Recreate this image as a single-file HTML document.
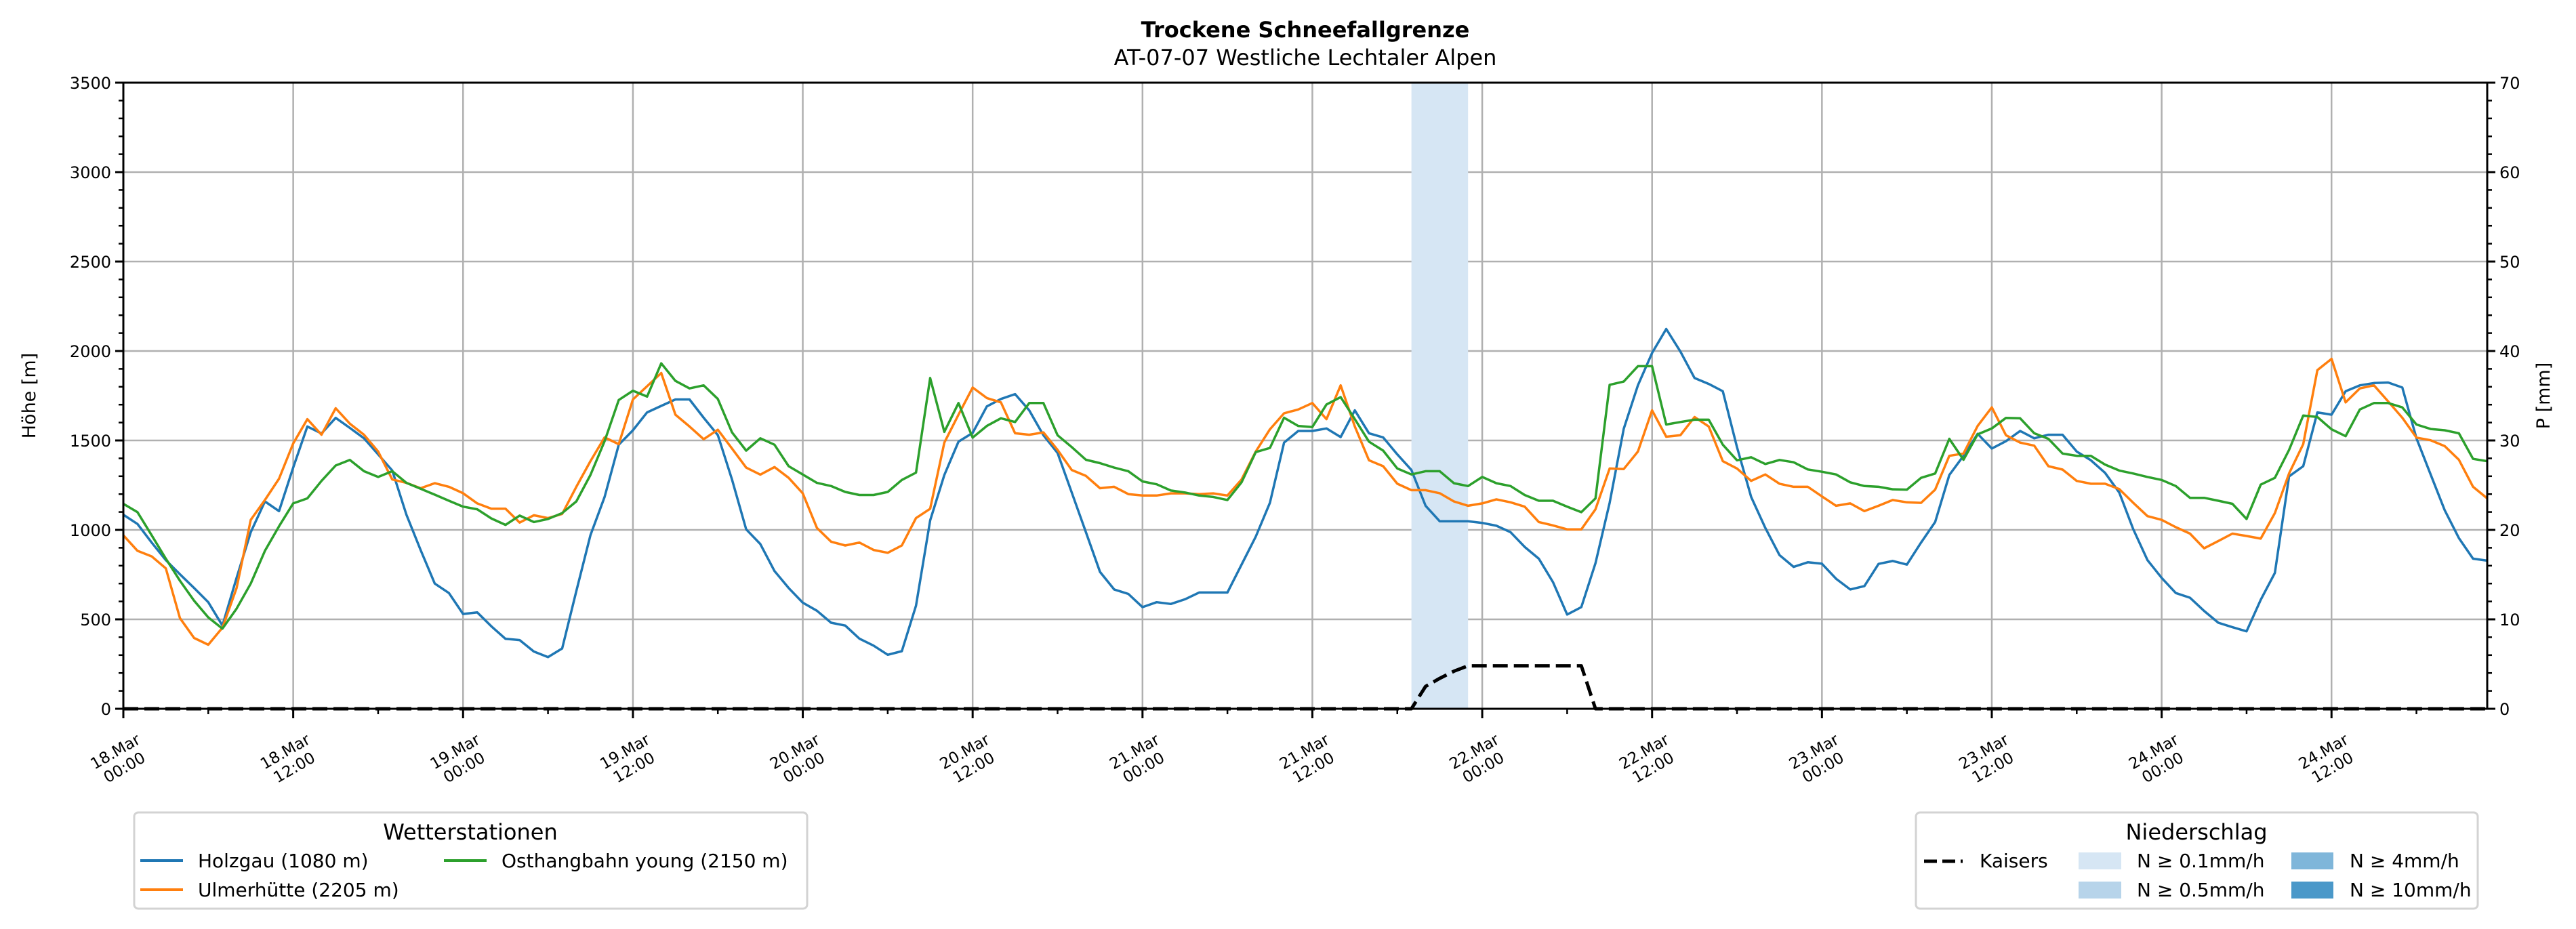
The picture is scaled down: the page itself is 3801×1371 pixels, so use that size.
<!DOCTYPE html>
<html><head><meta charset="utf-8"><style>
html,body{margin:0;padding:0;background:#fff;}
svg{display:block;font-family:"DejaVu Sans","Liberation Sans",sans-serif;}
</style></head><body>
<svg id="chart" width="3801" height="1371" viewBox="0 0 3801 1371" xmlns="http://www.w3.org/2000/svg">
<rect width="3801" height="1371" fill="#fff"/>
<text x="1926" y="55" text-anchor="middle" font-size="32" font-weight="bold">Trockene Schneefallgrenze</text>
<text x="1926" y="96" text-anchor="middle" font-size="32">AT-07-07 Westliche Lechtaler Alpen</text>
<g id="grid"></g>
<g id="bands"></g>
<g id="series"></g>
<g id="axes"></g>
<text transform="translate(52,584) rotate(-90)" text-anchor="middle" font-size="27">Höhe [m]</text>
<text transform="translate(3762,584) rotate(-90)" text-anchor="middle" font-size="27">P [mm]</text>
<g>
<rect x="198" y="1199" width="993" height="142" rx="6" fill="#fff" stroke="#d3d3d3" stroke-width="3"/>
<text x="694" y="1239" text-anchor="middle" font-size="32">Wetterstationen</text>
<line x1="207" y1="1270" x2="270" y2="1270" stroke="#1f77b4" stroke-width="4"/>
<text x="292" y="1280" font-size="28">Holzgau (1080 m)</text>
<line x1="207" y1="1313" x2="270" y2="1313" stroke="#ff7f0e" stroke-width="4"/>
<text x="292" y="1323" font-size="28">Ulmerhütte (2205 m)</text>
<line x1="655" y1="1270" x2="718" y2="1270" stroke="#2ca02c" stroke-width="4"/>
<text x="740" y="1280" font-size="28">Osthangbahn young (2150 m)</text>
</g>
<g>
<rect x="2827" y="1199" width="829" height="142" rx="6" fill="#fff" stroke="#d3d3d3" stroke-width="3"/>
<text x="3241" y="1239" text-anchor="middle" font-size="32">Niederschlag</text>
<line x1="2839" y1="1271" x2="2896" y2="1271" stroke="#000" stroke-width="5" stroke-dasharray="19 8"/>
<text x="2921" y="1280" font-size="28">Kaisers</text>
<rect x="3067" y="1258" width="63" height="25" fill="#d6e6f4"/>
<text x="3153" y="1280" font-size="28">N ≥ 0.1mm/h</text>
<rect x="3067" y="1301" width="63" height="25" fill="#b7d4ea"/>
<text x="3153" y="1323" font-size="28">N ≥ 0.5mm/h</text>
<rect x="3381" y="1258" width="62" height="25" fill="#7fb6da"/>
<text x="3467" y="1280" font-size="28">N ≥ 4mm/h</text>
<rect x="3381" y="1301" width="62" height="25" fill="#4a98c9"/>
<text x="3467" y="1323" font-size="28">N ≥ 10mm/h</text>
</g>
</svg>
<script>
const holzgau = [1085,1033,929,831,752,675,596,465,732,987,1159,1105,1348,1578,1539,1626,1570,1512,1422,1332,1085,888,700,647,530,539,461,391,384,320,289,337,658,970,1184,1476,1557,1657,1693,1729,1729,1627,1530,
1282,1003,921,770,675,593,548,481,465,392,353,302,322,576,1053,1307,1493,1542,1690,1732,1759,1668,1529,1430,1209,987,765,667,642,568,596,586,612,650,650,650,806,962,1151,1488,1553,1553,1567,
1519,1668,1540,1517,1422,1335,1135,1048,1048,1048,1039,1023,987,905,839,708,527,568,814,1151,1565,1808,1989,2123,1997,1849,1816,1775,1463,1184,1011,859,793,819,811,727,667,686,810,826,806,929,
1044,1307,1414,1537,1455,1496,1553,1512,1532,1532,1438,1389,1319,1209,1003,831,732,647,621,547,481,456,433,609,760,1299,1356,1657,1644,1775,1808,1821,1824,1796,1512,1310,1110,954,839,828];
const ulmerhuette = [970,883,852,785,507,396,358,453,675,1056,1167,1286,1483,1619,1532,1680,1594,1532,1438,1282,1263,1233,1261,1241,1205,1148,1118,1118,1041,1082,1066,1089,1241,1384,1517,1479,1729,1803,1877,1644,1578,1507,1560,
1455,1348,1309,1351,1291,1204,1011,934,913,929,888,872,913,1066,1118,1488,1644,1796,1737,1713,1540,1532,1545,1447,1335,1302,1233,1241,1200,1192,1192,1204,1204,1200,1204,1192,1282,1438,1562,1652,1673,1709,1619,
1808,1578,1389,1356,1258,1222,1222,1205,1159,1135,1148,1171,1154,1130,1044,1025,1003,1003,1115,1343,1340,1438,1668,1521,1529,1631,1578,1384,1343,1274,1310,1258,1241,1241,1187,1135,1148,1105,1135,1167,1154,1151,
1225,1414,1427,1581,1685,1529,1488,1471,1356,1337,1274,1258,1258,1228,1151,1077,1056,1015,979,897,938,979,966,951,1094,1315,1479,1893,1956,1713,1791,1808,1718,1627,1516,1501,1468,1392,1241,1176];
const osthangbahn = [1146,1099,970,839,716,604,511,448,560,700,883,1020,1148,1176,1274,1360,1391,1328,1296,1328,1263,1230,1197,1163,1130,1115,1064,1028,1080,1044,1061,1094,1159,1307,1496,1726,1778,1745,1931,1833,1791,1808,1732,
1545,1443,1512,1476,1356,1310,1263,1245,1212,1195,1195,1212,1279,1320,1849,1548,1709,1516,1581,1624,1603,1709,1709,1529,1463,1392,1373,1348,1328,1271,1255,1220,1209,1192,1184,1167,1266,1435,1458,1627,1581,1575,1701,
1742,1619,1493,1443,1343,1310,1328,1328,1261,1245,1296,1261,1245,1195,1163,1163,1130,1099,1176,1811,1829,1915,1915,1589,1603,1616,1616,1476,1389,1406,1368,1391,1378,1338,1325,1310,1266,1245,1241,1227,1225,1291,
1315,1509,1392,1534,1567,1626,1624,1540,1509,1427,1414,1414,1365,1332,1315,1296,1279,1245,1179,1179,1163,1146,1061,1253,1291,1447,1639,1631,1562,1524,1673,1709,1709,1685,1589,1564,1557,1540,1397,1384];
const kaisers = [0,0,0,0,0,0,0,0,0,0,0,0, 0,0,0,0,0,0,0,0,0,0,0,0, 0,0,0,0,0,0,0,0,0,0,0,0,
0,0,0,0,0,0,0,0,0,0,0,0, 0,0,0,0,0,0,0,0,0,0,0,0, 0,0,0,0,0,0,0,0,0,0,0,0,
0,0,0,0,0,0,0,0,0,0,0,0, 0,0,0,0,0,0,0,0,2.5,3.4,4.2,4.8, 4.8,4.8,4.8,4.8,4.8,4.8,4.8,4.8,0,0,0,0,
0,0,0,0,0,0,0,0,0,0,0,0, 0,0,0,0,0,0,0,0,0,0,0,0, 0,0,0,0,0,0,0,0,0,0,0,0,
0,0,0,0,0,0,0,0,0,0,0,0, 0,0,0,0,0,0,0,0,0,0,0,0];
const bandStart = [91];
const bandEnd = [95];
const xTickDays = ["18.Mar","18.Mar","19.Mar","19.Mar","20.Mar","20.Mar","21.Mar","21.Mar","22.Mar","22.Mar","23.Mar","23.Mar","24.Mar","24.Mar"];
const xTickTimes = ["00:00","12:00","00:00","12:00","00:00","12:00","00:00","12:00","00:00","12:00","00:00","12:00","00:00","12:00"];
const yTicks = [0,500,1000,1500,2000,2500,3000,3500];
const y2Ticks = [0,10,20,30,40,50,60,70];

const NS="http://www.w3.org/2000/svg";
const L=182,R=3670,T=122,B=1046,HMAX=167;
const xS=h=>L+(R-L)*h/HMAX;
const yS=v=>B-(B-T)*v/3500;
const y2S=v=>B-(B-T)*v/70;
function mk(tag,attrs,parent){const e=document.createElementNS(NS,tag);for(const k in attrs)e.setAttribute(k,attrs[k]);parent.appendChild(e);return e;}
const grid=document.getElementById('grid'),axes=document.getElementById('axes'),bands=document.getElementById('bands'),series=document.getElementById('series');
yTicks.forEach(v=>{
  const g=mk('line',{x1:L,x2:R,y1:yS(v),y2:yS(v),stroke:'#b0b0b0','stroke-width':2.5},grid);
  
  
});
xTickDays.forEach((d,i)=>{
  const x=xS(i*12);
  const g=mk('line',{x1:x,x2:x,y1:T,y2:B,stroke:'#b0b0b0','stroke-width':2.5},grid);
  
  
});
bandStart.forEach((s,i)=>{
  const r=mk('rect',{x:xS(s),y:T,width:xS(bandEnd[i])-xS(s),height:B-T,fill:'#d6e6f4'},bands);
  
  
});
function line(arr,color,name,scale,extra){
  const d=arr.map((v,i)=>(i?'L':'M')+xS(i).toFixed(1)+','+scale(v).toFixed(1)).join('');
  const p=mk('path',Object.assign({d:d,fill:'none',stroke:color,'stroke-width':3.5,'stroke-linejoin':'round'},extra||{}),series);
  
  
}
line(holzgau,'#1f77b4','holzgau-line',yS);
line(ulmerhuette,'#ff7f0e','ulmerhuette-line',yS);
line(osthangbahn,'#2ca02c','osthangbahn-line',yS);
line(kaisers,'#000','kaisers-line',y2S,{'stroke-width':5,'stroke-dasharray':'22 9'});
mk('rect',{x:L,y:T,width:R-L,height:B-T,fill:'none',stroke:'#000','stroke-width':3},axes);
yTicks.forEach(v=>{
  mk('line',{x1:L-12,x2:L,y1:yS(v),y2:yS(v),stroke:'#000','stroke-width':3},axes);
  const t=mk('text',{x:L-18,y:yS(v)+9,'text-anchor':'end','font-size':24},axes);
  t.textContent=v;
  
  
});
for(let v=0;v<=3500;v+=100){mk('line',{x1:L-7,x2:L,y1:yS(v),y2:yS(v),stroke:'#000','stroke-width':2.5},axes);}
y2Ticks.forEach(v=>{
  mk('line',{x1:R,x2:R+12,y1:y2S(v),y2:y2S(v),stroke:'#000','stroke-width':3},axes);
  const t=mk('text',{x:R+18,y:y2S(v)+9,'text-anchor':'start','font-size':24},axes);
  t.textContent=v;
  
  
});
for(let v=0;v<=70;v+=2){mk('line',{x1:R,x2:R+7,y1:y2S(v),y2:y2S(v),stroke:'#000','stroke-width':2.5},axes);}
for(let h=0;h<=HMAX;h+=6){const maj=h%12===0;mk('line',{x1:xS(h),x2:xS(h),y1:B,y2:B+(maj?14:8),stroke:'#000','stroke-width':maj?3:2.5},axes);}
xTickDays.forEach((d,i)=>{
  const x=xS(i*12);
  const t=mk('text',{transform:`translate(${x-8},${1116}) rotate(-30)`,'text-anchor':'middle','font-size':23},axes);
  
  
  mk('tspan',{x:0,y:0},t).textContent=d;
  mk('tspan',{x:0,y:27},t).textContent=xTickTimes[i];
});
</script>
</body></html>
